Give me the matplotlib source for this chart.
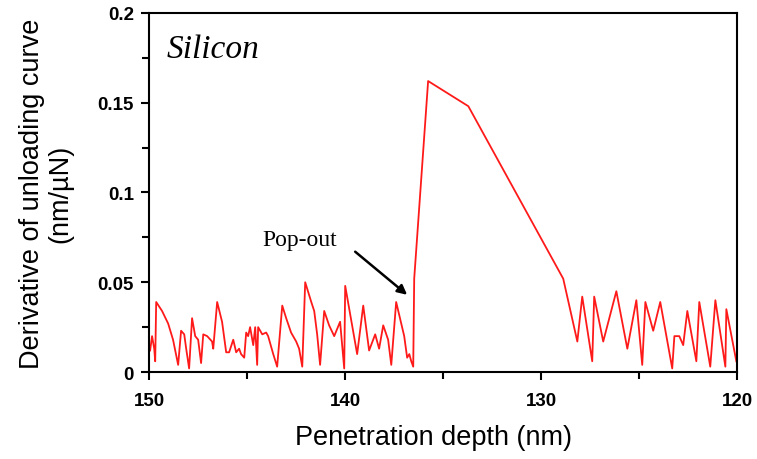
import matplotlib.pyplot as plt
from matplotlib.ticker import MultipleLocator

# === dane: pochodna krzywej odciążania, krzem ===
depth_nm = [
    149.95, 149.85, 149.74, 149.69, 149.64, 149.34, 149.03, 148.78, 148.52, 148.37,
    148.21, 148.11, 147.96, 147.81, 147.65, 147.50, 147.35, 147.24, 147.04, 146.79,
    146.73, 146.53, 146.28, 146.07, 145.92, 145.71, 145.56, 145.41, 145.31, 145.15,
    145.05, 144.95, 144.85, 144.69, 144.59, 144.49, 144.44, 144.23, 144.03, 143.93,
    143.67, 143.47, 143.21, 143.01, 142.76, 142.50, 142.35, 142.19, 142.04, 141.73,
    141.58, 141.43, 141.28, 141.07, 140.82, 140.56, 140.26, 140.05, 140.00, 139.39,
    139.08, 138.78, 138.47, 138.27, 138.06, 137.81, 137.65, 137.40, 136.99, 136.84,
    136.73, 136.63, 136.53, 136.48, 135.77, 133.72, 128.88, 128.16, 127.91, 127.40,
    127.30, 126.84, 126.17, 125.61, 125.15, 124.85, 124.69, 124.29, 123.93, 123.32,
    123.21, 122.96, 122.76, 122.55, 122.09, 121.94, 121.38, 121.12, 120.61, 120.56,
    120.05,
]
derivative = [
    0.012, 0.020, 0.013, 0.006, 0.039, 0.034, 0.027, 0.018, 0.004, 0.023,
    0.021, 0.013, 0.002, 0.030, 0.020, 0.018, 0.005, 0.021, 0.020, 0.017,
    0.013, 0.039, 0.028, 0.011, 0.011, 0.018, 0.011, 0.013, 0.010, 0.008,
    0.022, 0.020, 0.025, 0.015, 0.025, 0.004, 0.025, 0.021, 0.022, 0.020,
    0.010, 0.003, 0.037, 0.030, 0.022, 0.017, 0.013, 0.003, 0.050, 0.039,
    0.034, 0.021, 0.004, 0.034, 0.026, 0.020, 0.028, 0.002, 0.048, 0.010,
    0.037, 0.012, 0.021, 0.013, 0.026, 0.018, 0.004, 0.039, 0.020, 0.008,
    0.010, 0.006, 0.003, 0.052, 0.162, 0.148, 0.052, 0.017, 0.042, 0.006,
    0.042, 0.017, 0.045, 0.013, 0.040, 0.004, 0.039, 0.023, 0.039, 0.002,
    0.020, 0.020, 0.015, 0.034, 0.006, 0.039, 0.003, 0.040, 0.003, 0.035,
    0.006,
]

x_ticks = [150, 140, 130, 120]
y_ticks = [0, 0.05, 0.1, 0.15, 0.2]
y_tick_labels = ["0", "0.05", "0.1", "0.15", "0.2"]

# === wykres ===
fig = plt.figure(figsize=(7.57, 4.6), dpi=100)
ax = fig.add_axes([0.197, 0.189, 0.777, 0.781])

ax.plot(depth_nm, derivative, color="#ff1a1a", linewidth=1.3)

ax.set_xlim(150, 120)
ax.set_ylim(0, 0.2)
ax.set_xticks(x_ticks)
ax.set_yticks(y_ticks)
ax.set_yticklabels(y_tick_labels)
ax.xaxis.set_minor_locator(MultipleLocator(5))
ax.yaxis.set_minor_locator(MultipleLocator(0.025))

ax.tick_params(which="both", direction="out", width=1.5, top=False, right=False)
ax.tick_params(which="major", length=6)
ax.tick_params(axis="x", which="major", pad=8)
ax.tick_params(axis="y", which="major", pad=5)
ax.tick_params(which="minor", length=5)
for lab in ax.get_xticklabels() + ax.get_yticklabels():
    lab.set_fontweight("bold")
    lab.set_fontsize(13.5)
    lab.set_family("Liberation Sans")
for sp in ax.spines.values():
    sp.set_linewidth(1.5)

ax.set_xlabel("Penetration depth (nm)", fontsize=19.5, family="Liberation Sans", labelpad=11)
ax.xaxis.label.set_x(0.483)
ax.set_ylabel("Derivative of unloading curve\n(nm/\u00b5N)", fontsize=19.5,
              family="Liberation Sans", labelpad=17, linespacing=1.15)

ax.text(149.1, 0.180, "Silicon", fontsize=24, style="italic",
        family="Liberation Serif", va="center", ha="left")

# strzałka "Pop-out"
ax.text(142.3, 0.074, "Pop-out", fontsize=17, family="Liberation Serif",
        ha="center", va="center")
ax.annotate("", xy=(136.84, 0.043), xytext=(139.49, 0.067),
            arrowprops=dict(arrowstyle="-|>", color="black", lw=1.8,
                            shrinkA=0, shrinkB=0, mutation_scale=14))

fig.savefig("out.png", dpi=100)
